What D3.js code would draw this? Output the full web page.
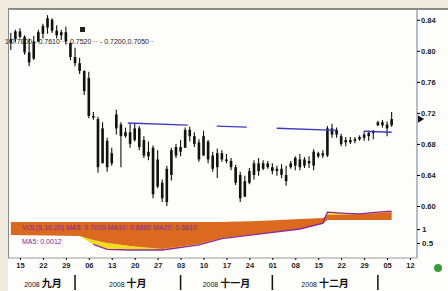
<!DOCTYPE html>
<html>
<head>
<meta charset="utf-8">
<script src="https://cdn.jsdelivr.net/npm/d3@7"></script>
<style>
  body { margin: 0; background: #efecdf; }
  svg { display: block; font-family: "Liberation Sans", Arial, sans-serif; }
</style>
</head>
<body>
<svg id="chart" width="448" height="291"></svg>
<script>
// daily bars, one per weekday from 2008-09-11
const highs  = [.823,.827,.829,.820,.816,.819,.827,.835,.846,.842,.833,.827,.831,.811,.804,.791,.775,.773,.721,.715,
                .708,.688,.675,.724,.708,.701,.706,.706,.703,.690,.683,.678,.672,.634,.652,.675,.680,.685,.701,.702,
                .695,.686,.697,.685,.670,.674,.672,.667,.662,.653,.644,.639,.649,.659,.662,.659,.658,.655,.652,.654,
                .652,.658,.664,.667,.663,.664,.673,.670,.672,.703,.706,.701,.693,.689,.689,.689,.691,.695,.697,.698,
                .710,.711,.709,.721];
const lows   = [.801,.811,.816,.795,.780,.788,.811,.816,.822,.823,.816,.814,.808,.788,.780,.770,.743,.713,.711,.643,
                .662,.644,.652,.692,.650,.688,.675,.683,.672,.662,.659,.610,.623,.605,.600,.633,.662,.664,.675,.683,
                .676,.657,.665,.655,.644,.636,.657,.655,.646,.627,.605,.612,.628,.634,.639,.646,.648,.641,.639,.636,
                .626,.648,.646,.646,.649,.649,.646,.662,.662,.663,.688,.688,.677,.677,.680,.681,.684,.684,.684,.686,
                .703,.701,.690,.702];
const opens  = [.810,.815,.825,.818,.798,.790,.812,.822,.830,.840,.826,.820,.824,.810,.792,.784,.774,.765,.716,.712,
                .655,.684,.655,.700,.705,.690,.695,.685,.700,.685,.670,.675,.625,.630,.605,.640,.665,.676,.675,.698,
                .690,.682,.665,.683,.665,.650,.668,.660,.658,.650,.640,.612,.630,.640,.655,.648,.655,.650,.645,.648,
                .640,.650,.652,.660,.652,.658,.652,.668,.665,.665,.700,.692,.690,.682,.685,.684,.686,.688,.690,.694,
                .704,.708,.705,.704];
const closes = [.815,.825,.818,.798,.785,.812,.824,.832,.842,.826,.820,.824,.812,.792,.784,.774,.748,.716,.714,.650,
                .700,.650,.668,.718,.690,.695,.680,.700,.676,.665,.664,.615,.660,.610,.648,.672,.676,.670,.698,.690,
                .680,.660,.690,.660,.648,.668,.660,.658,.650,.630,.610,.632,.645,.655,.645,.655,.650,.645,.648,.640,
                .632,.655,.662,.650,.660,.655,.670,.664,.668,.700,.692,.698,.680,.685,.682,.686,.689,.692,.694,.696,
                .708,.704,.700,.712];
const priceTicks = [0.60, 0.64, 0.68, 0.72, 0.76, 0.80, 0.84];

// blue trend line (day index, price)
const trendDays = [25.5, 83];
const trendPrices = [0.707, 0.695];

// lower indicator, read at key days
const oscDays  = [0, 15, 18, 21, 26, 33, 41, 46, 54, 63, 68, 69, 73, 76, 80, 83];
const oscUpper = [1.25,1.25,1.25,1.25,1.25,1.25,1.25,1.25,1.29,1.36,1.39,1.50,1.52,1.54,1.57,1.61];
const oscLower = [0.79,0.75,0.61,0.50,0.39,0.29,0.46,0.68,0.82,1.00,1.18,1.32,1.32,1.32,1.32,1.32];
const oscMa    = [0.79,0.75,0.45,0.27,0.25,0.25,0.43,0.66,0.82,1.00,1.21,1.60,1.56,1.54,1.60,1.64];
const oscTicks = [1, 0.5];
const oscTickLabels = ["1", "0.5"];

const monthNames = ["九月", "十月", "十一月", "十二月"];

// weekday calendar for the x axis
const days = [];
for (let d = new Date(2008, 8, 11); d <= new Date(2009, 0, 12); d.setDate(d.getDate() + 1)) {
  if (d.getDay() !== 0 && d.getDay() !== 6) days.push(new Date(d));
}

const pLeft = 8, pRight = 417, pTop = 9, pBottom = 258;
const svg = d3.select("#chart");

svg.append("rect").attr("x", pLeft).attr("y", pTop).attr("width", 448 - pLeft).attr("height", 291 - pTop)
  .attr("fill", "#fdfdfb");

const x = d3.scaleLinear().domain([0, days.length - 1]).range([10.8, 410]);
const y = d3.scaleLinear().domain([0.60, 0.85]).range([206, 12]);
const yo = d3.scaleLinear().domain([0, 2]).range([257, 201]);

svg.append("clipPath").attr("id", "plot").append("rect")
  .attr("x", pLeft).attr("y", pTop).attr("width", pRight - pLeft).attr("height", pBottom - pTop);

const plot = svg.append("g").attr("clip-path", "url(#plot)");

// indicator panel
const osc = oscDays.map((d, i) => ({d, up: oscUpper[i], lo: oscLower[i], ma: oscMa[i]}));
const edge = o => o.ma < o.lo ? o.lo : (o.ma > o.up ? o.up : o.ma);
plot.append("path").datum(osc)
  .attr("d", d3.area().x(o => x(o.d)).y0(o => yo(o.ma)).y1(o => yo(edge(o))))
  .attr("fill", "#f2dc1c");
plot.append("path").datum(osc)
  .attr("d", d3.area().x(o => x(o.d)).y0(o => yo(o.lo)).y1(o => yo(o.up)))
  .attr("fill", "#dc6a1e");
plot.append("path").datum(osc.filter(o => o.d >= 18))
  .attr("d", d3.line().x(o => x(o.d)).y(o => yo(o.ma)))
  .attr("fill", "none").attr("stroke", "#8a2aa0").attr("stroke-width", 1.3);

plot.append("text").attr("x", 22).attr("y", 230).attr("font-size", 7).attr("fill", "#7a2a9a")
  .text("VOL(5,10,20) MA5: 0.7020  MA10: 0.6890  MA20: 0.6810");
plot.append("text").attr("x", 22).attr("y", 244).attr("font-size", 7).attr("fill", "#7a2a9a")
  .text("MA5: 0.0012");

// price bars
const bars = highs.map((h, i) => ({i, h, l: lows[i], o: opens[i], c: closes[i]}));
const g = plot.append("g");
g.selectAll(".wick").data(bars).join("line")
  .attr("x1", b => x(b.i)).attr("x2", b => x(b.i))
  .attr("y1", b => y(b.h)).attr("y2", b => y(b.l))
  .attr("stroke", "#111").attr("stroke-width", 1.1);
g.selectAll(".body").data(bars).join("rect")
  .attr("x", b => x(b.i) - 1.3).attr("width", 2.6)
  .attr("y", b => y(Math.max(b.o, b.c)))
  .attr("height", b => Math.max(1, Math.abs(y(b.o) - y(b.c))))
  .attr("fill", "#111");

// trend line
plot.append("line")
  .attr("x1", x(trendDays[0])).attr("y1", y(trendPrices[0]))
  .attr("x2", x(trendDays[1])).attr("y2", y(trendPrices[1]))
  .attr("stroke", "#3c3cc0").attr("stroke-width", 1.4)
  .attr("stroke-dasharray", "60,29,30,30,60,27,30");

// legend text in the top left
svg.append("text").attr("x", 5).attr("y", 44).attr("font-size", 7).attr("fill", "#222")
  .text("1:0.7800 - 0.7610 · : 0.7520 ·· - 0.7200,0.7050 ·");
svg.append("rect").attr("x", 80).attr("y", 27).attr("width", 5).attr("height", 5).attr("fill", "#222");

// frame
svg.append("line").attr("x1", pLeft).attr("x2", 448).attr("y1", pTop).attr("y2", pTop)
  .attr("stroke", "#222").attr("stroke-width", 1.2);
svg.append("line").attr("x1", pLeft + 0.5).attr("x2", pLeft + 0.5).attr("y1", pTop).attr("y2", pBottom)
  .attr("stroke", "#888").attr("stroke-width", 1);
svg.append("line").attr("x1", pRight).attr("x2", pRight).attr("y1", pTop).attr("y2", pBottom)
  .attr("stroke", "#8890a8").attr("stroke-width", 1.2);
svg.append("line").attr("x1", pLeft).attr("x2", pRight).attr("y1", pBottom).attr("y2", pBottom)
  .attr("stroke", "#999").attr("stroke-width", 1);

// right price axis
const ax = svg.append("g").attr("transform", `translate(${pRight},0)`)
  .call(d3.axisRight(y).tickValues(priceTicks).tickSize(3).tickPadding(1).tickFormat(d3.format(".2f")));
ax.select(".domain").remove();
ax.selectAll("text").attr("font-size", 7.5).attr("font-weight", "bold").attr("fill", "#222");

const axo = svg.append("g").attr("transform", `translate(${pRight},0)`)
  .call(d3.axisRight(yo).tickValues(oscTicks).tickSize(3).tickPadding(2).tickFormat((d, i) => oscTickLabels[i]));
axo.select(".domain").remove();
axo.selectAll("text").attr("font-size", 8).attr("font-weight", "bold").attr("fill", "#222");

// last price marker
const last = bars[bars.length - 1];
svg.append("path")
  .attr("d", d3.symbol(d3.symbolTriangle, 22)())
  .attr("transform", `translate(${pRight + 3},${y(last.c)}) rotate(90)`)
  .attr("fill", "#111");

// bottom date axis
const mondays = days.map((d, i) => i).filter(i => days[i].getDay() === 1);
const bx = svg.append("g").attr("transform", `translate(0,${pBottom})`)
  .call(d3.axisBottom(x).tickValues(mondays).tickSize(2).tickPadding(3)
    .tickFormat(i => d3.timeFormat("%d")(days[i])));
bx.select(".domain").remove();
bx.selectAll("text").attr("font-size", 7.5).attr("font-weight", "bold").attr("fill", "#222");

// month row
const monthStarts = days.map((d, i) => i).filter(i => i > 0 && days[i].getMonth() !== days[i - 1].getMonth());
svg.selectAll(".sep").data(monthStarts).join("line")
  .attr("x1", i => x(i)).attr("x2", i => x(i)).attr("y1", 275).attr("y2", 290)
  .attr("stroke", "#111").attr("stroke-width", 1.5);
const spans = [0].concat(monthStarts).slice(0, monthNames.length)
  .map((s, k) => [s, k < monthStarts.length ? monthStarts[k] : days.length - 1]);
const mt = svg.selectAll(".month").data(spans).join("text")
  .attr("x", s => (x(s[0]) + x(s[1])) / 2).attr("y", 287)
  .attr("text-anchor", "middle").attr("fill", "#111");
mt.append("tspan").attr("font-size", 7).text("2008 ");
mt.append("tspan").attr("font-size", 10).attr("font-weight", "bold")
  .attr("font-family", "Noto Sans CJK SC").text((s, k) => monthNames[k]);

svg.append("circle").attr("cx", 438).attr("cy", 268).attr("r", 4).attr("fill", "#3c9a3c");
</script>
</body>
</html>
